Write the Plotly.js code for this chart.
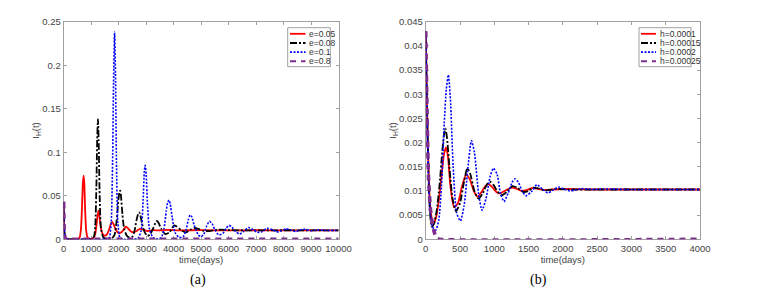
<!DOCTYPE html>
<html>
<head>
<meta charset="utf-8">
<script src="https://cdn.plot.ly/plotly-3.0.1.min.js"></script>
<style>html,body{margin:0;padding:0;background:#fff;}#chart{width:757px;height:302px;}</style>
</head>
<body>
<div id="chart"></div>
<script>
// ---------- Panel (a): varying e ----------
const aLabels = ["e=0.05", "e=0.08", "e=0.1", "e=0.8"];
const a1x = [0, 20, 60, 120, 300, 500, 580, 630, 670, 700, 726, 750, 780, 820, 870, 950, 1050, 1130, 1190, 1240, 1271, 1300, 1350, 1420, 1500, 1580, 1650, 1710, 1767, 1820, 1900, 2000, 2100, 2200, 2264, 2330, 2450, 2550, 2650, 2780, 2900, 3050, 3250, 3500, 3800, 4200, 5000, 6000, 7000, 8000, 9000, 10000];
const a1y = [0.043, 0.012, 0.001, 0.0002, 0, 0, 0.002, 0.012, 0.04, 0.065, 0.073, 0.065, 0.035, 0.01, 0.002, 0.0005, 0.001, 0.004, 0.015, 0.029, 0.033, 0.027, 0.014, 0.006, 0.004, 0.006, 0.011, 0.017, 0.020, 0.017, 0.011, 0.007, 0.008, 0.012, 0.0145, 0.013, 0.009, 0.008, 0.0095, 0.012, 0.011, 0.0095, 0.0105, 0.0102, 0.0108, 0.0103, 0.0105, 0.0102, 0.0104, 0.0103, 0.0103, 0.0103];
const a2x = [0, 20, 60, 120, 300, 700, 1000, 1100, 1150, 1190, 1220, 1247, 1275, 1310, 1360, 1450, 1600, 1750, 1850, 1930, 1990, 2030, 2058, 2090, 2140, 2200, 2300, 2400, 2500, 2580, 2650, 2710, 2748, 2790, 2850, 2950, 3050, 3150, 3250, 3340, 3390, 3450, 3550, 3700, 3850, 3950, 4019, 4100, 4300, 4450, 4600, 4750, 4900, 5100, 5300, 5600, 6000, 7000, 8000, 9000, 10000];
const a2y = [0.043, 0.012, 0.001, 0.0002, 0, 0, 0, 0.003, 0.015, 0.06, 0.115, 0.138, 0.11, 0.05, 0.012, 0.002, 0.0005, 0.001, 0.005, 0.022, 0.045, 0.054, 0.056, 0.048, 0.028, 0.012, 0.004, 0.002, 0.003, 0.010, 0.022, 0.029, 0.031, 0.028, 0.018, 0.008, 0.004, 0.006, 0.012, 0.019, 0.021, 0.019, 0.012, 0.006, 0.008, 0.013, 0.016, 0.015, 0.010, 0.008, 0.011, 0.013, 0.012, 0.0095, 0.0095, 0.0110, 0.0105, 0.0102, 0.0104, 0.0103, 0.0103];
const a3x = [0, 20, 60, 120, 300, 1000, 1500, 1650, 1730, 1780, 1815, 1852, 1885, 1920, 1970, 2050, 2200, 2500, 2700, 2820, 2890, 2935, 2966, 3000, 3050, 3120, 3250, 3400, 3550, 3650, 3730, 3790, 3838, 3880, 3950, 4050, 4200, 4350, 4450, 4530, 4600, 4660, 4750, 4900, 5000, 5100, 5200, 5302, 5400, 5500, 5650, 5800, 5920, 6017, 6120, 6250, 6400, 6550, 6719, 6900, 7050, 7200, 7400, 7600, 7750, 7900, 8100, 8300, 8450, 8650, 8800, 9000, 9200, 9500, 10000];
const a3y = [0.043, 0.012, 0.001, 0.0002, 0, 0, 0, 0.001, 0.02, 0.09, 0.18, 0.238, 0.19, 0.09, 0.02, 0.002, 0, 0, 0.001, 0.01, 0.045, 0.078, 0.085, 0.075, 0.04, 0.012, 0.002, 0.0005, 0.002, 0.012, 0.032, 0.043, 0.045, 0.040, 0.025, 0.008, 0.002, 0.003, 0.010, 0.022, 0.028, 0.026, 0.016, 0.005, 0.003, 0.006, 0.015, 0.0207, 0.018, 0.011, 0.005, 0.007, 0.013, 0.016, 0.014, 0.009, 0.006, 0.009, 0.0135, 0.011, 0.008, 0.0085, 0.0125, 0.011, 0.0085, 0.0095, 0.012, 0.0105, 0.009, 0.0112, 0.0115, 0.0098, 0.0108, 0.0102, 0.0103];
const a4x = [0, 20, 60, 120, 300, 10000];
const a4y = [0.043, 0.012, 0.001, 0, 0, 0];

// ---------- Panel (b): varying h ----------
const bLabels = ["h=0.0001", "h=0.00015", "h=0.0002", "h=0.00025"];
const b1x = [0, 20, 40, 60, 80, 112, 150, 190, 230, 265, 296, 325, 360, 413, 470, 530, 588, 640, 700, 753, 810, 870, 914, 970, 1030, 1084, 1150, 1254, 1330, 1400, 1480, 1550, 1650, 1750, 1850, 2000, 2500, 3000, 3500, 4000];
const b1y = [0.043, 0.027, 0.015, 0.008, 0.005, 0.0032, 0.0045, 0.008, 0.013, 0.0175, 0.019, 0.017, 0.011, 0.0066, 0.0075, 0.011, 0.0133, 0.0125, 0.0100, 0.0088, 0.0097, 0.011, 0.0114, 0.0108, 0.0098, 0.0095, 0.0100, 0.0107, 0.0104, 0.0100, 0.0102, 0.0106, 0.0104, 0.0102, 0.0103, 0.0104, 0.0103, 0.0103, 0.0103, 0.0103];
const b2x = [0, 20, 40, 60, 87, 120, 160, 200, 240, 265, 287, 310, 345, 390, 442, 500, 560, 607, 650, 710, 773, 830, 890, 938, 990, 1050, 1108, 1180, 1264, 1340, 1420, 1500, 1570, 1650, 1750, 1900, 2100, 2500, 3000, 3500, 4000];
const b2y = [0.043, 0.026, 0.013, 0.006, 0.0026, 0.0032, 0.006, 0.011, 0.018, 0.0215, 0.0229, 0.021, 0.015, 0.0085, 0.0058, 0.0075, 0.012, 0.0147, 0.0135, 0.0100, 0.0084, 0.0095, 0.0113, 0.0119, 0.0112, 0.0098, 0.0091, 0.0098, 0.0110, 0.0106, 0.0098, 0.0100, 0.0107, 0.0105, 0.0101, 0.0104, 0.0103, 0.0103, 0.0103, 0.0103, 0.0103];
const b3x = [0, 20, 40, 70, 100, 146, 190, 230, 270, 300, 330, 360, 400, 450, 505, 560, 610, 666, 710, 770, 821, 880, 940, 987, 1040, 1090, 1142, 1200, 1260, 1302, 1350, 1400, 1458, 1540, 1620, 1700, 1780, 1860, 1940, 2020, 2100, 2180, 2270, 2400, 2600, 3000, 3500, 4000];
const b3y = [0.043, 0.026, 0.013, 0.005, 0.0025, 0.0019, 0.004, 0.011, 0.024, 0.031, 0.034, 0.029, 0.015, 0.0055, 0.0038, 0.007, 0.014, 0.0204, 0.018, 0.0095, 0.006, 0.0085, 0.013, 0.0147, 0.0135, 0.0095, 0.0078, 0.0095, 0.0118, 0.0125, 0.0118, 0.0102, 0.009, 0.0098, 0.0113, 0.0104, 0.0096, 0.0102, 0.0108, 0.0104, 0.0100, 0.0102, 0.0105, 0.0103, 0.0104, 0.0103, 0.0103, 0.0103];
const b4x = [0, 20, 40, 70, 100, 130, 160, 200, 4000];
const b4y = [0.043, 0.026, 0.013, 0.006, 0.003, 0.0012, 0.0002, 0, 0];

const colors = ["#ff0000", "#000000", "#0000ff", "#7e2f8e"];
const dashes = ["solid", "7px,2px,2px,2px", "2px,1.5px", "6px,5px"];
const widths = [1.8, 1.8, 1.6, 3.6];
const captions = ["(a)", "(b)"];

function mk(x, y, i, name, xa, ya) {
  return {x: x, y: y, name: name, type: "scatter", mode: "lines", xaxis: xa, yaxis: ya, showlegend: false,
    line: {color: colors[i], dash: dashes[i], width: widths[i], shape: "spline", smoothing: 0.6}};
}
const data = [
  mk(a1x, a1y, 0, aLabels[0], "x", "y"),
  mk(a2x, a2y, 1, aLabels[1], "x", "y"),
  mk(a3x, a3y, 2, aLabels[2], "x", "y"),
  mk(a4x, a4y, 3, aLabels[3], "x", "y"),
  mk(b1x, b1y, 0, bLabels[0], "x2", "y2"),
  mk(b2x, b2y, 1, bLabels[1], "x2", "y2"),
  mk(b3x, b3y, 2, bLabels[2], "x2", "y2"),
  mk(b4x, b4y, 3, bLabels[3], "x2", "y2")
];

const W = 757, H = 302;
const px = (v) => v / W, py = (v) => 1 - v / H;
const shapes = [], annotations = [];
// compact MATLAB-style legends (box, line samples, labels)
function legendBox(x0, x1, s0, s1, t0, labels) {
  shapes.push({type: "rect", xref: "paper", yref: "paper", x0: px(x0), x1: px(x1), y0: py(66.7), y1: py(27.7),
    line: {color: "#a0a0a0", width: 1}, fillcolor: "#fff", layer: "above"});
  const rows = [33.8, 43, 52.2, 61.2];
  labels.forEach((lab, i) => {
    shapes.push({type: "line", xref: "paper", yref: "paper", x0: px(s0), x1: px(s1), y0: py(rows[i]), y1: py(rows[i]),
      line: {color: colors[i], dash: dashes[i], width: i === 3 ? 2 : 1.8}, layer: "above"});
    annotations.push({text: lab, xref: "paper", yref: "paper", x: px(t0), y: py(rows[i]), xanchor: "left", yanchor: "middle",
      showarrow: false, font: {size: 8.5, color: "#333"}});
  });
}
legendBox(287.7, 330.3, 290, 305.5, 306.5, aLabels);
legendBox(639, 691, 641, 656, 657.5, bLabels);
annotations.push(
  {text: captions[0], xref: "paper", yref: "paper", x: px(188), y: py(290), showarrow: false,
   font: {family: "Liberation Serif, Times New Roman, serif", size: 14, color: "#000"}},
  {text: captions[1], xref: "paper", yref: "paper", x: px(549), y: py(290), showarrow: false,
   font: {family: "Liberation Serif, Times New Roman, serif", size: 14, color: "#000"}}
);

const axCommon = {showline: true, linecolor: "#a0a0a0", linewidth: 1, mirror: "ticks", ticks: "inside", ticklen: 3,
  tickcolor: "#a0a0a0", showgrid: false, zeroline: false, layer: "below traces", tickfont: {size: 9.5, color: "#444"}};
const ttl = (t) => ({text: t, font: {size: 9.5, color: "#444"}, standoff: 0});

const layout = {
  width: W, height: H, margin: {l: 0, r: 0, t: 0, b: 0},
  paper_bgcolor: "#fff", plot_bgcolor: "#fff",
  font: {family: "Liberation Sans, Arial, sans-serif"},
  xaxis: Object.assign({}, axCommon, {domain: [0.0841, 0.4472], range: [0, 10000], dtick: 1000, tickformat: "d", anchor: "y", title: ttl("time(days)")}),
  yaxis: Object.assign({}, axCommon, {domain: [0.2076, 0.9281], range: [0, 0.25], dtick: 0.05, anchor: "x", title: ttl("I<sub>H</sub>(t)")}),
  xaxis2: Object.assign({}, axCommon, {domain: [0.5624, 0.9247], range: [0, 4000], dtick: 500, tickformat: "d", anchor: "y2", title: ttl("time(days)")}),
  yaxis2: Object.assign({}, axCommon, {domain: [0.2076, 0.9281], range: [0, 0.045], dtick: 0.005, anchor: "x2", title: ttl("I<sub>H</sub>(t)")}),
  shapes: shapes,
  annotations: annotations,
  showlegend: false
};
Plotly.newPlot("chart", data, layout, {displayModeBar: false, staticPlot: true});
</script>
</body>
</html>
